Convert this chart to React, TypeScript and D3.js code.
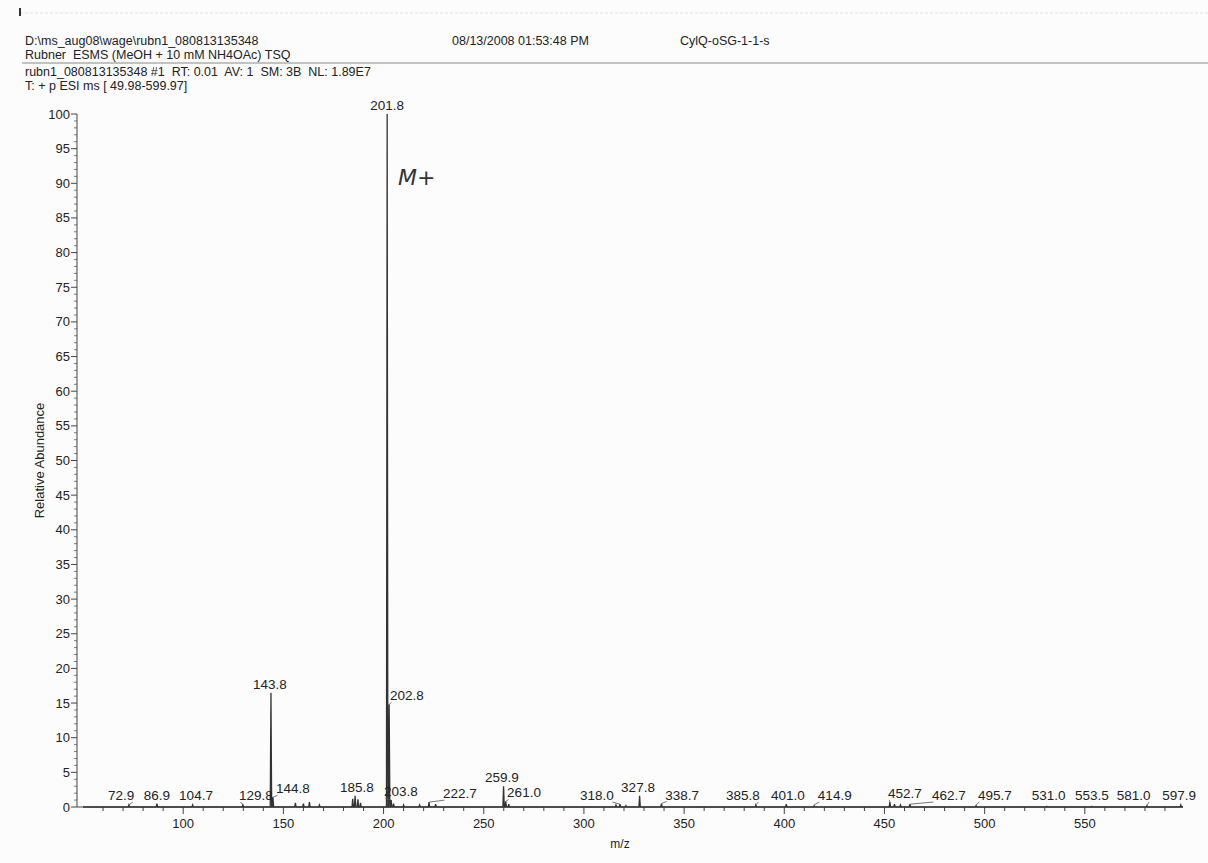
import React, { useEffect, useRef } from 'react'
import * as d3 from 'd3'

// labelled peaks
const peakMz = [72.9, 86.9, 104.7, 129.8, 143.8, 144.8, 185.8, 201.8, 202.8, 203.8, 222.7, 259.9, 261.0, 318.0, 327.8, 338.7, 385.8, 401.0, 414.9, 452.7, 462.7, 495.7, 531.0, 553.5, 581.0, 597.9]
const peakAbund = [0.3, 0.5, 0.3, 0.3, 16.5, 1.4, 1.6, 100, 14.8, 1.0, 0.7, 3.0, 0.8, 0.4, 1.6, 0.5, 0.3, 0.4, 0.2, 0.7, 0.4, 0.2, 0.1, 0.1, 0.2, 0.3]
// m/z where each label is printed (the instrument shifts crowded labels)
const labelMz = [69.0, 86.9, 106.4, 136.3, 143.3, 154.8, 186.7, 201.8, 211.7, 208.7, 238.1, 259.1, 270.1, 306.5, 327.0, 349.0, 379.3, 401.8, 425.2, 460.2, 482.1, 505.1, 532.0, 553.5, 574.4, 597.1]

// small unlabelled bumps
const minorMz = [156, 160, 163, 168, 184.6, 187.2, 188.5, 205, 210, 218, 226, 262.5, 316, 321, 455, 458]
const minorAbund = [0.6, 0.5, 0.7, 0.3, 1.2, 1.1, 0.6, 0.5, 0.3, 0.3, 0.4, 0.4, 0.3, 0.2, 0.4, 0.3]

const yTicks = [0, 5, 10, 15, 20, 25, 30, 35, 40, 45, 50, 55, 60, 65, 70, 75, 80, 85, 90, 95, 100]
const xTickLabels = [100, 150, 200, 250, 300, 350, 400, 450, 500, 550]

const headerLeft = [
  'D:\\ms_aug08\\wage\\rubn1_080813135348',
  'Rubner  ESMS (MeOH + 10 mM NH4OAc) TSQ',
]
const headerInfo = [
  'rubn1_080813135348 #1  RT: 0.01  AV: 1  SM: 3B  NL: 1.89E7',
  'T: + p ESI ms [ 49.98-599.97]',
]
const headerDate = '08/13/2008 01:53:48 PM'
const headerSample = 'CylQ-oSG-1-1-s'

const Spectrum = () => {
  const svgRef = useRef(null)

  useEffect(() => {
    const width = 1208
    const height = 863
    const font = 'Liberation Sans, Arial, sans-serif'
    const ink = '#222'

    const svg = d3.select(svgRef.current)
    svg.selectAll('*').remove()
    svg.attr('width', width).attr('height', height)

    svg.append('rect').attr('width', width).attr('height', height).attr('fill', '#fcfcfc')

    const x = d3.scaleLinear().domain([47, 599]).range([77, 1183])
    const y = d3.scaleLinear().domain([0, 100]).range([807, 114])

    // header
    svg.append('line')
      .attr('x1', 20).attr('x2', width).attr('y1', 13).attr('y2', 13)
      .attr('stroke', '#ddd').attr('stroke-dasharray', '3,2')
    svg.append('line')
      .attr('x1', 20).attr('x2', 20).attr('y1', 8).attr('y2', 16)
      .attr('stroke', '#333').attr('stroke-width', 2)
    const head = svg.append('g').attr('font-family', font).attr('font-size', 12.5).attr('fill', ink)
    headerLeft.forEach((t, i) => {
      head.append('text').attr('xml:space', 'preserve').attr('x', 25).attr('y', 45 + i * 14).text(t)
    })
    head.append('text').attr('x', 452).attr('y', 45).text(headerDate)
    head.append('text').attr('x', 680).attr('y', 45).text(headerSample)
    svg.append('line')
      .attr('x1', 22).attr('x2', width).attr('y1', 63).attr('y2', 63)
      .attr('stroke', '#888').attr('stroke-width', 1)
    headerInfo.forEach((t, i) => {
      head.append('text').attr('xml:space', 'preserve').attr('x', 25).attr('y', 76 + i * 14).text(t)
    })

    // y axis
    const ya = svg.append('g').attr('stroke', '#444')
    ya.append('line').attr('x1', x.range()[0]).attr('x2', x.range()[0])
      .attr('y1', y(0)).attr('y2', y(100))
    d3.range(0, 101, 1).forEach((v) => {
      const major = v % 5 === 0
      ya.append('line')
        .attr('x1', x.range()[0] - (major ? 6 : 3)).attr('x2', x.range()[0])
        .attr('y1', y(v)).attr('y2', y(v))
        .attr('stroke-width', major ? 1 : 0.7)
    })
    svg.append('g').attr('font-family', font).attr('font-size', 13).attr('fill', ink)
      .attr('text-anchor', 'end')
      .selectAll('text').data(yTicks).join('text')
      .attr('x', x.range()[0] - 7).attr('y', (d) => y(d) + 4.5).text((d) => d)
    svg.append('text')
      .attr('transform', `translate(44, ${(y(0) + y(100)) / 2}) rotate(-90)`)
      .attr('text-anchor', 'middle').attr('font-family', font).attr('font-size', 13)
      .attr('fill', ink).text('Relative Abundance')

    // x axis
    const xa = svg.append('g').attr('stroke', '#444')
    xa.append('line').attr('x1', x.range()[0]).attr('x2', x.range()[1])
      .attr('y1', y(0)).attr('y2', y(0))
    d3.range(60, 600, 10).forEach((v) => {
      const major = v % 50 === 0
      xa.append('line')
        .attr('x1', x(v)).attr('x2', x(v))
        .attr('y1', y(0)).attr('y2', y(0) + (major ? 7 : 4))
    })
    svg.append('g').attr('font-family', font).attr('font-size', 13).attr('fill', ink)
      .attr('text-anchor', 'middle')
      .selectAll('text').data(xTickLabels).join('text')
      .attr('x', (d) => x(d)).attr('y', y(0) + 21).text((d) => d)
    svg.append('text').attr('x', 620).attr('y', 848).attr('text-anchor', 'middle')
      .attr('font-family', font).attr('font-size', 12).attr('fill', ink).text('m/z')

    // spectrum trace
    const all = peakMz.map((m, i) => [m, peakAbund[i]])
      .concat(minorMz.map((m, i) => [m, minorAbund[i]]))
      .sort((a, b) => a[0] - b[0])
    const pts = [[x.domain()[0] + 3, 0]]
    all.forEach(([m, a]) => {
      pts.push([m - 0.35, 0], [m, a], [m + 0.35, 0])
    })
    pts.push([x.domain()[1], 0])
    const line = d3.line().x((d) => x(d[0])).y((d) => y(d[1]))
    svg.append('path').attr('d', line(pts)).attr('fill', 'none')
      .attr('stroke', '#333').attr('stroke-width', 1.3)

    // peak labels
    const lab = svg.append('g').attr('font-family', font).attr('font-size', 13.5).attr('fill', ink)
    peakMz.forEach((m, i) => {
      const px = x(m)
      const py = y(peakAbund[i])
      const lx = x(labelMz[i])
      const base = Math.min(py - 4, y(0) - 7)
      const txt = m.toFixed(1)
      lab.append('text').attr('x', lx).attr('y', base).attr('text-anchor', 'middle').text(txt)
      const half = txt.length * 3.7
      if (Math.abs(lx - px) > 6) {
        const ex = lx > px ? lx - half + 3 : lx + half - 3
        svg.append('line')
          .attr('x1', px).attr('y1', Math.min(py, y(0) - 2))
          .attr('x2', ex).attr('y2', base + 2)
          .attr('stroke', '#555').attr('stroke-width', 0.8)
      }
    })

    // handwritten note
    svg.append('text').attr('x', 398).attr('y', 185)
      .attr('font-family', 'DejaVu Sans, sans-serif').attr('font-size', 22)
      .attr('font-weight', 200).attr('font-style', 'italic').attr('fill', '#333')
      .text('M+')
  }, [])

  return <svg ref={svgRef} style={{ position: 'absolute', left: 0, top: 0 }}></svg>
}

export default function App() {
  return <Spectrum />
}
